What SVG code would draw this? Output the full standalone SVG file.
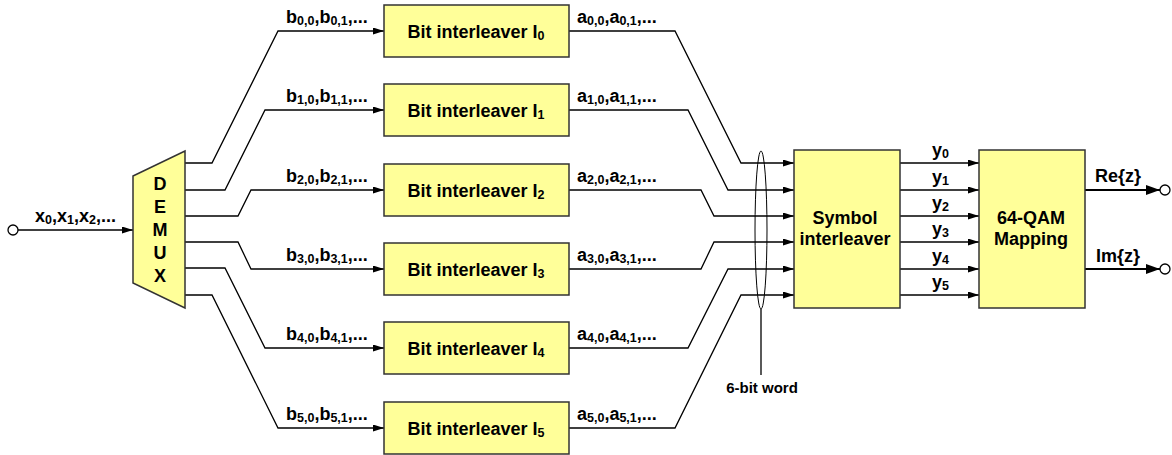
<svg xmlns="http://www.w3.org/2000/svg" width="1172" height="455" viewBox="0 0 1172 455">
<style>
text{font-family:"Liberation Sans",Arial,sans-serif;font-weight:bold;font-size:18px;fill:#000}
.s{font-size:12.5px}
.small{font-size:15px}
.box{fill:#FFFF99;stroke:#333;stroke-width:1.5}
.ln{fill:none;stroke:#000;stroke-width:1.3}
.thick{fill:none;stroke:#000;stroke-width:2.2}
.term{fill:#fff;stroke:#000;stroke-width:1.3}
</style>
<defs>
<marker id="ar" markerUnits="userSpaceOnUse" markerWidth="11" markerHeight="8" refX="11" refY="3.5" orient="auto">
<path d="M0,0 L11,3.5 L0,7 z" fill="#000"/>
</marker>
<marker id="arB" markerUnits="userSpaceOnUse" markerWidth="14" markerHeight="10" refX="14" refY="5" orient="auto">
<path d="M0,0 L14,5 L0,10 z" fill="#000"/>
</marker>
</defs>

<g id="connectors">
<circle class="term" cx="13" cy="230" r="5"/>
<path class="ln" d="M18,230 H133" marker-end="url(#ar)"/>
<path class="ln" d="M185,163 H212 L278,31 H384" marker-end="url(#ar)"/>
<path class="ln" d="M185,190 H225 L265,110 H384" marker-end="url(#ar)"/>
<path class="ln" d="M185,216 H238 L251,190 H384" marker-end="url(#ar)"/>
<path class="ln" d="M185,242 H238 L251,269 H384" marker-end="url(#ar)"/>
<path class="ln" d="M185,268 H225 L265,348 H384" marker-end="url(#ar)"/>
<path class="ln" d="M185,295 H212 L278,428 H384" marker-end="url(#ar)"/>
<path class="ln" d="M569,31 H675 L741,163 H794" marker-end="url(#ar)"/>
<path class="ln" d="M569,110 H688 L728,190 H794" marker-end="url(#ar)"/>
<path class="ln" d="M569,190 H701 L714,216 H794" marker-end="url(#ar)"/>
<path class="ln" d="M569,269 H701 L714,242 H794" marker-end="url(#ar)"/>
<path class="ln" d="M569,348 H688 L728,269 H794" marker-end="url(#ar)"/>
<path class="ln" d="M569,428 H675 L741,295 H794" marker-end="url(#ar)"/>
<path class="ln" d="M900,163 H979" marker-end="url(#ar)"/>
<path class="ln" d="M900,190 H979" marker-end="url(#ar)"/>
<path class="ln" d="M900,216 H979" marker-end="url(#ar)"/>
<path class="ln" d="M900,242 H979" marker-end="url(#ar)"/>
<path class="ln" d="M900,269 H979" marker-end="url(#ar)"/>
<path class="ln" d="M900,295 H979" marker-end="url(#ar)"/>
<path class="thick" d="M1085,190 H1160" marker-end="url(#arB)"/>
<path class="thick" d="M1085,269 H1160" marker-end="url(#arB)"/>
<circle class="term" cx="1165" cy="190" r="5"/>
<circle class="term" cx="1165" cy="269" r="5"/>
<ellipse cx="761" cy="230" rx="6" ry="79" fill="none" stroke="#000" stroke-width="1"/>
<path class="ln" d="M761,309 V375" stroke-width="1"/>
</g>

<g id="labels">
<text x="35" y="222">x<tspan class="s" dy="2">0</tspan><tspan dy="-2">,x</tspan><tspan class="s" dy="2">1</tspan><tspan dy="-2">,x</tspan><tspan class="s" dy="2">2</tspan><tspan dy="-2">,...</tspan></text>
<text x="286" y="23">b<tspan class="s" dy="2">0,0</tspan><tspan dy="-2">,b</tspan><tspan class="s" dy="2">0,1</tspan><tspan dy="-2">,...</tspan></text>
<text x="286" y="102">b<tspan class="s" dy="2">1,0</tspan><tspan dy="-2">,b</tspan><tspan class="s" dy="2">1,1</tspan><tspan dy="-2">,...</tspan></text>
<text x="286" y="182">b<tspan class="s" dy="2">2,0</tspan><tspan dy="-2">,b</tspan><tspan class="s" dy="2">2,1</tspan><tspan dy="-2">,...</tspan></text>
<text x="286" y="261">b<tspan class="s" dy="2">3,0</tspan><tspan dy="-2">,b</tspan><tspan class="s" dy="2">3,1</tspan><tspan dy="-2">,...</tspan></text>
<text x="286" y="340">b<tspan class="s" dy="2">4,0</tspan><tspan dy="-2">,b</tspan><tspan class="s" dy="2">4,1</tspan><tspan dy="-2">,...</tspan></text>
<text x="286" y="420">b<tspan class="s" dy="2">5,0</tspan><tspan dy="-2">,b</tspan><tspan class="s" dy="2">5,1</tspan><tspan dy="-2">,...</tspan></text>
<text x="577" y="23">a<tspan class="s" dy="2">0,0</tspan><tspan dy="-2">,a</tspan><tspan class="s" dy="2">0,1</tspan><tspan dy="-2">,...</tspan></text>
<text x="577" y="102">a<tspan class="s" dy="2">1,0</tspan><tspan dy="-2">,a</tspan><tspan class="s" dy="2">1,1</tspan><tspan dy="-2">,...</tspan></text>
<text x="577" y="182">a<tspan class="s" dy="2">2,0</tspan><tspan dy="-2">,a</tspan><tspan class="s" dy="2">2,1</tspan><tspan dy="-2">,...</tspan></text>
<text x="577" y="261">a<tspan class="s" dy="2">3,0</tspan><tspan dy="-2">,a</tspan><tspan class="s" dy="2">3,1</tspan><tspan dy="-2">,...</tspan></text>
<text x="577" y="340">a<tspan class="s" dy="2">4,0</tspan><tspan dy="-2">,a</tspan><tspan class="s" dy="2">4,1</tspan><tspan dy="-2">,...</tspan></text>
<text x="577" y="420">a<tspan class="s" dy="2">5,0</tspan><tspan dy="-2">,a</tspan><tspan class="s" dy="2">5,1</tspan><tspan dy="-2">,...</tspan></text>
<text x="932" y="156">y<tspan class="s" dy="2">0</tspan></text>
<text x="932" y="183">y<tspan class="s" dy="2">1</tspan></text>
<text x="932" y="209">y<tspan class="s" dy="2">2</tspan></text>
<text x="932" y="235">y<tspan class="s" dy="2">3</tspan></text>
<text x="932" y="262">y<tspan class="s" dy="2">4</tspan></text>
<text x="932" y="288">y<tspan class="s" dy="2">5</tspan></text>
<text x="1095" y="182">Re{z}</text>
<text x="1096" y="262">Im{z}</text>
<text class="small" x="762" y="393" text-anchor="middle">6-bit word</text>
</g>

<g id="demux">
<path class="box" d="M133,176 L185,151 L185,308 L133,283 Z"/>
<text x="160" y="190" text-anchor="middle">D</text>
<text x="160" y="213" text-anchor="middle">E</text>
<text x="160" y="236" text-anchor="middle">M</text>
<text x="160" y="259" text-anchor="middle">U</text>
<text x="160" y="282" text-anchor="middle">X</text>
</g>

<g id="bi0"><rect class="box" x="384" y="5" width="185" height="52"/><text x="476" y="37.5" text-anchor="middle">Bit interleaver I<tspan class="s" dy="2">0</tspan></text></g>
<g id="bi1"><rect class="box" x="384" y="84" width="185" height="52"/><text x="476" y="116.5" text-anchor="middle">Bit interleaver I<tspan class="s" dy="2">1</tspan></text></g>
<g id="bi2"><rect class="box" x="384" y="164" width="185" height="52"/><text x="476" y="196.5" text-anchor="middle">Bit interleaver I<tspan class="s" dy="2">2</tspan></text></g>
<g id="bi3"><rect class="box" x="384" y="243" width="185" height="52"/><text x="476" y="275.5" text-anchor="middle">Bit interleaver I<tspan class="s" dy="2">3</tspan></text></g>
<g id="bi4"><rect class="box" x="384" y="322" width="185" height="52"/><text x="476" y="354.5" text-anchor="middle">Bit interleaver I<tspan class="s" dy="2">4</tspan></text></g>
<g id="bi5"><rect class="box" x="384" y="402" width="185" height="52"/><text x="476" y="434.5" text-anchor="middle">Bit interleaver I<tspan class="s" dy="2">5</tspan></text></g>

<g id="symint"><rect class="box" x="794" y="150" width="106" height="158"/>
<text x="845" y="224" text-anchor="middle">Symbol</text>
<text x="845" y="245" text-anchor="middle">interleaver</text></g>

<g id="qam"><rect class="box" x="979" y="150" width="106" height="158"/>
<text x="1031" y="224" text-anchor="middle">64-QAM</text>
<text x="1031" y="245" text-anchor="middle">Mapping</text></g>
</svg>
